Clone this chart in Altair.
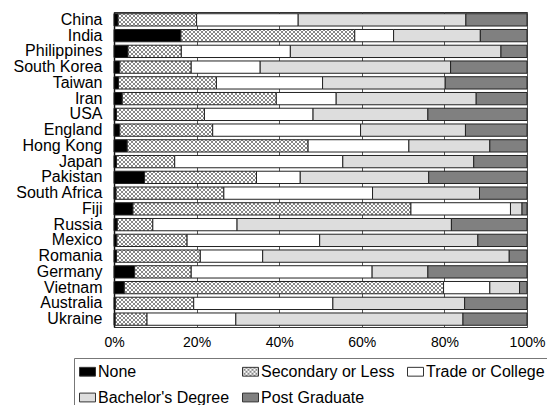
import altair as alt
import pandas as pd
import jinja2

countries = ["China", "India", "Philippines", "South Korea", "Taiwan", "Iran", "USA",
             "England", "Hong Kong", "Japan", "Pakistan", "South Africa", "Fiji", "Russia",
             "Mexico", "Romania", "Germany", "Vietnam", "Australia", "Ukraine"]
levels = ["None", "Secondary or Less", "Trade or College", "Bachelor's Degree", "Post Graduate"]

none_pct = [1.0, 16.2, 3.4, 1.4, 1.1, 2.0, 0.6, 1.4, 3.2, 0.6, 7.4, 0.5, 4.6, 0.8, 0.7, 0.6, 5.0, 2.5, 0.4, 0.3]
secondary_pct = [19.0, 42.1, 12.9, 17.3, 23.7, 37.3, 21.3, 22.5, 43.8, 14.1, 27.1, 26.1, 67.3, 8.6, 17.0, 20.3, 13.7, 77.3, 18.9, 7.7]
trade_pct = [24.6, 9.4, 26.4, 16.7, 25.7, 14.5, 26.3, 35.8, 24.4, 40.7, 10.6, 36.0, 24.1, 20.4, 32.1, 15.1, 43.8, 11.2, 33.7, 21.5]
bachelor_pct = [40.6, 21.0, 51.0, 46.1, 29.7, 33.9, 27.8, 25.4, 19.6, 31.7, 31.1, 25.9, 2.8, 51.9, 38.3, 59.7, 13.5, 7.2, 31.9, 55.0]
postgrad_pct = [14.8, 11.3, 6.3, 18.5, 19.8, 12.3, 24.0, 14.9, 9.0, 12.9, 23.8, 11.5, 1.2, 18.3, 11.9, 4.3, 24.0, 1.8, 15.1, 15.5]

fills = ["#000000", "url(#xhatch)", "#ffffff", "#dddddd", "#808080"]

series = [none_pct, secondary_pct, trade_pct, bachelor_pct, postgrad_pct]
rows = []
for i, c in enumerate(countries):
    for j, (lv, arr) in enumerate(zip(levels, series)):
        rows.append({"country": c, "level": lv, "value": arr[i], "order": j})
df = pd.DataFrame(rows)

FONT = "Liberation Sans"

TEMPLATE = jinja2.Template("""<!DOCTYPE html>
<html>
<head>
<meta charset="utf-8">
<style>
body { margin: 8px; overflow: hidden; }
</style>
<script type="text/javascript" src="{{ base_url }}/vega@{{ vega_version }}"></script>
<script type="text/javascript" src="{{ base_url }}/vega-lite@{{ vegalite_version }}"></script>
<script type="text/javascript" src="{{ base_url }}/vega-embed@{{ vegaembed_version }}"></script>
</head>
<body>
<svg width="0" height="0" style="position:absolute">
<defs>
<pattern id="xhatch" patternUnits="userSpaceOnUse" width="4" height="4">
<rect width="4" height="4" fill="#ffffff"/>
<path d="M-1,-1L5,5M5,-1L-1,5" stroke="#555555" stroke-width="0.7"/>
</pattern>
</defs>
</svg>
<div id="{{ output_div }}"></div>
<script type="text/javascript">
vegaEmbed("#{{ output_div }}", {{ spec }}, {{ embed_options }}).catch(console.error);
</script>
</body>
</html>
""")

chart = alt.Chart(df).mark_bar(stroke="#222222", strokeWidth=1, opacity=1).encode(
    y=alt.Y("country:N", sort=countries,
            scale=alt.Scale(paddingInner=0.22, paddingOuter=0.11),
            axis=alt.Axis(title=None, labelFontSize=16, labelFont=FONT, labelColor="black",
                          ticks=False, domain=True, domainColor="#111", domainWidth=1.5,
                          labelPadding=12, grid=False)),
    x=alt.X("value:Q", stack="normalize",
            scale=alt.Scale(domain=[0, 1], nice=False),
            axis=alt.Axis(title=None, format="%", values=[0, 0.2, 0.4, 0.6, 0.8, 1],
                          grid=True, gridColor="#555", gridWidth=1, ticks=False, domain=False,
                          labelFontSize=14, labelPadding=8, labelColor="black", labelFont=FONT,
                          labelFlush=False)),
    fill=alt.Fill("level:N", scale=alt.Scale(domain=levels, range=fills),
                  legend=alt.Legend(orient="none", legendX=-40, legendY=346,
                                    direction="horizontal", columns=3, title=None,
                                    labelFontSize=16, labelFont=FONT, labelColor="black",
                                    symbolType="M-1,-0.55H1V0.55H-1Z", symbolSize=256,
                                    symbolStrokeColor="#333", symbolStrokeWidth=1,
                                    labelOffset=2, columnPadding=10, rowPadding=9,
                                    padding=5, strokeColor="#777", fillColor="white",
                                    labelLimit=300)),
    order=alt.Order("order:Q"),
).properties(
    width=413, height=315,
    autosize=alt.AutoSizeParams(type="none"),
    padding={"left": 106, "top": 4, "right": 28, "bottom": 78},
).configure_view(stroke="#333", strokeWidth=1)

chart.save("out.html", embed_options={"renderer": "svg", "actions": False}, template=TEMPLATE)
